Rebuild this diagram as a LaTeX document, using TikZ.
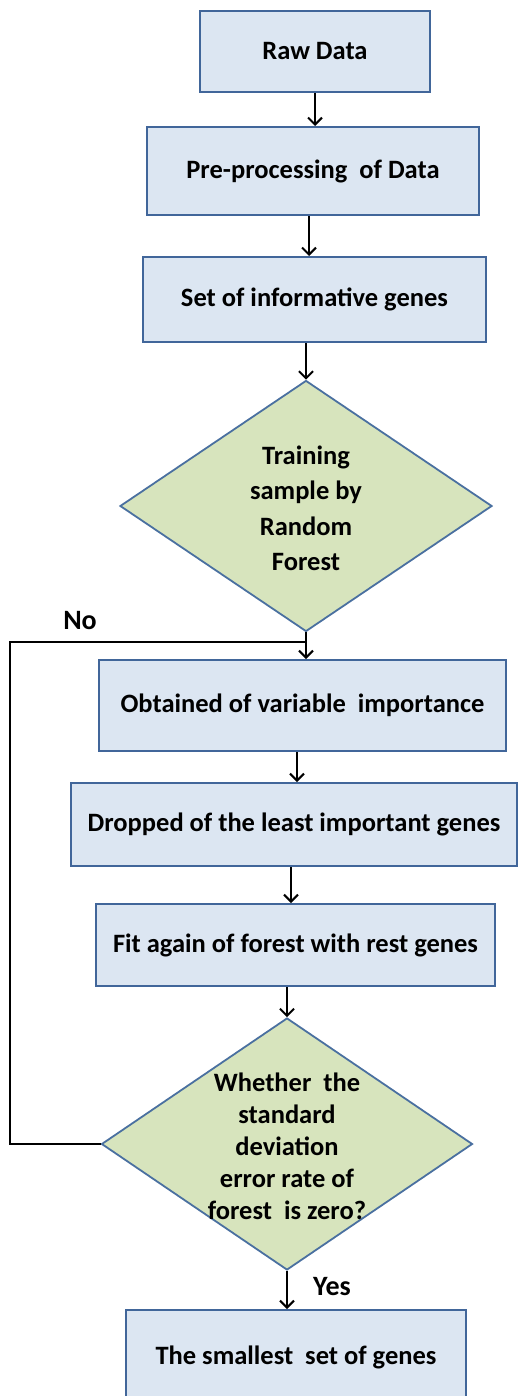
\documentclass[tikz,border=0pt]{standalone}
\usepackage{fontspec}
\setmainfont{Carlito}
\usetikzlibrary{shapes.geometric,arrows.meta}
\definecolor{boxfill}{HTML}{DCE6F2}
\definecolor{boxline}{HTML}{41669A}
\definecolor{dfill}{HTML}{D7E4BD}
\definecolor{dline}{HTML}{4A70A0}
\begin{document}
\begin{tikzpicture}[x=1pt,y=-1pt,
  box/.style={draw=boxline, fill=boxfill, line width=2pt, inner sep=0pt,
    font=\fontsize{26.5}{32}\selectfont\bfseries, align=center},
  dia/.style={shape=diamond, draw=dline, fill=dfill, line width=1.8pt, inner sep=0pt},
  diatext/.style={inner sep=0pt, align=center},
  conn/.style={line width=2pt, black},
  arr/.style={conn, -{Straight Barb[length=7pt,width=14pt,line width=2pt]}},
  lbl/.style={font=\fontsize{28}{32}\selectfont\bfseries, inner sep=0pt}]
\useasboundingbox (0,0) rectangle (518,1396);
\node[box, minimum width=230pt, minimum height=81pt] (raw) at (315,51.5) {Raw Data};
\node[box, minimum width=332pt, minimum height=88pt] (pre) at (313,171) {Pre-processing\ \ of Data};
\node[box, minimum width=343pt, minimum height=85pt] (set) at (314.5,299.5) {Set of informative genes};
\node[dia, minimum width=372pt, minimum height=251pt] (d1) at (306,506) {};
\node[diatext, font=\fontsize{26.5}{35.5}\selectfont\bfseries] (d1t) at (306,508.5) {Training\\sample by\\Random\\Forest};
\node[box, minimum width=407pt, minimum height=91pt] (obt) at (302.5,705.5) {Obtained of variable\ \ importance};
\node[box, minimum width=446pt, minimum height=83pt] (drop) at (294,824.5) {Dropped of the least important genes};
\node[box, minimum width=399pt, minimum height=82pt] (fit) at (295.5,945) {Fit again of forest with rest genes};
\node[dia, minimum width=371pt, minimum height=252pt] (d2) at (287,1144) {};
\node[diatext, font=\fontsize{26.5}{32}\selectfont\bfseries] (d2t) at (287,1146) {Whether\ \ the\\standard\\deviation\\error rate of\\forest\ \ is zero?};
\node[box, minimum width=340pt, minimum height=94pt] (last) at (296,1357) {The smallest\ \ set of genes};
\node[lbl] (no) at (80,621) {No};
\node[lbl] (yes) at (332,1287) {Yes};
\coordinate (loopc) at (10,642);
\draw[arr] (raw.south) -- (raw.south |- pre.north);
\draw[arr] ([xshift=-4pt]pre.south) -- ([xshift=-4pt]pre.south |- set.north);
\draw[arr] (set.south -| d1.north) -- (d1.north);
\draw[conn] (d2.west) -| (loopc) -- (loopc -| d1.south);
\draw[arr] (d1.south) -- (d1.south |- obt.north);
\draw[arr] ([xshift=-5.5pt]obt.south) -- ([xshift=-5.5pt]obt.south |- drop.north);
\draw[arr] ([xshift=-3pt]drop.south) -- ([xshift=-3pt]drop.south |- fit.north);
\draw[arr] (fit.south -| d2.north) -- (d2.north);
\draw[arr] (d2.south) -- (d2.south |- last.north);
\end{tikzpicture}
\end{document}
